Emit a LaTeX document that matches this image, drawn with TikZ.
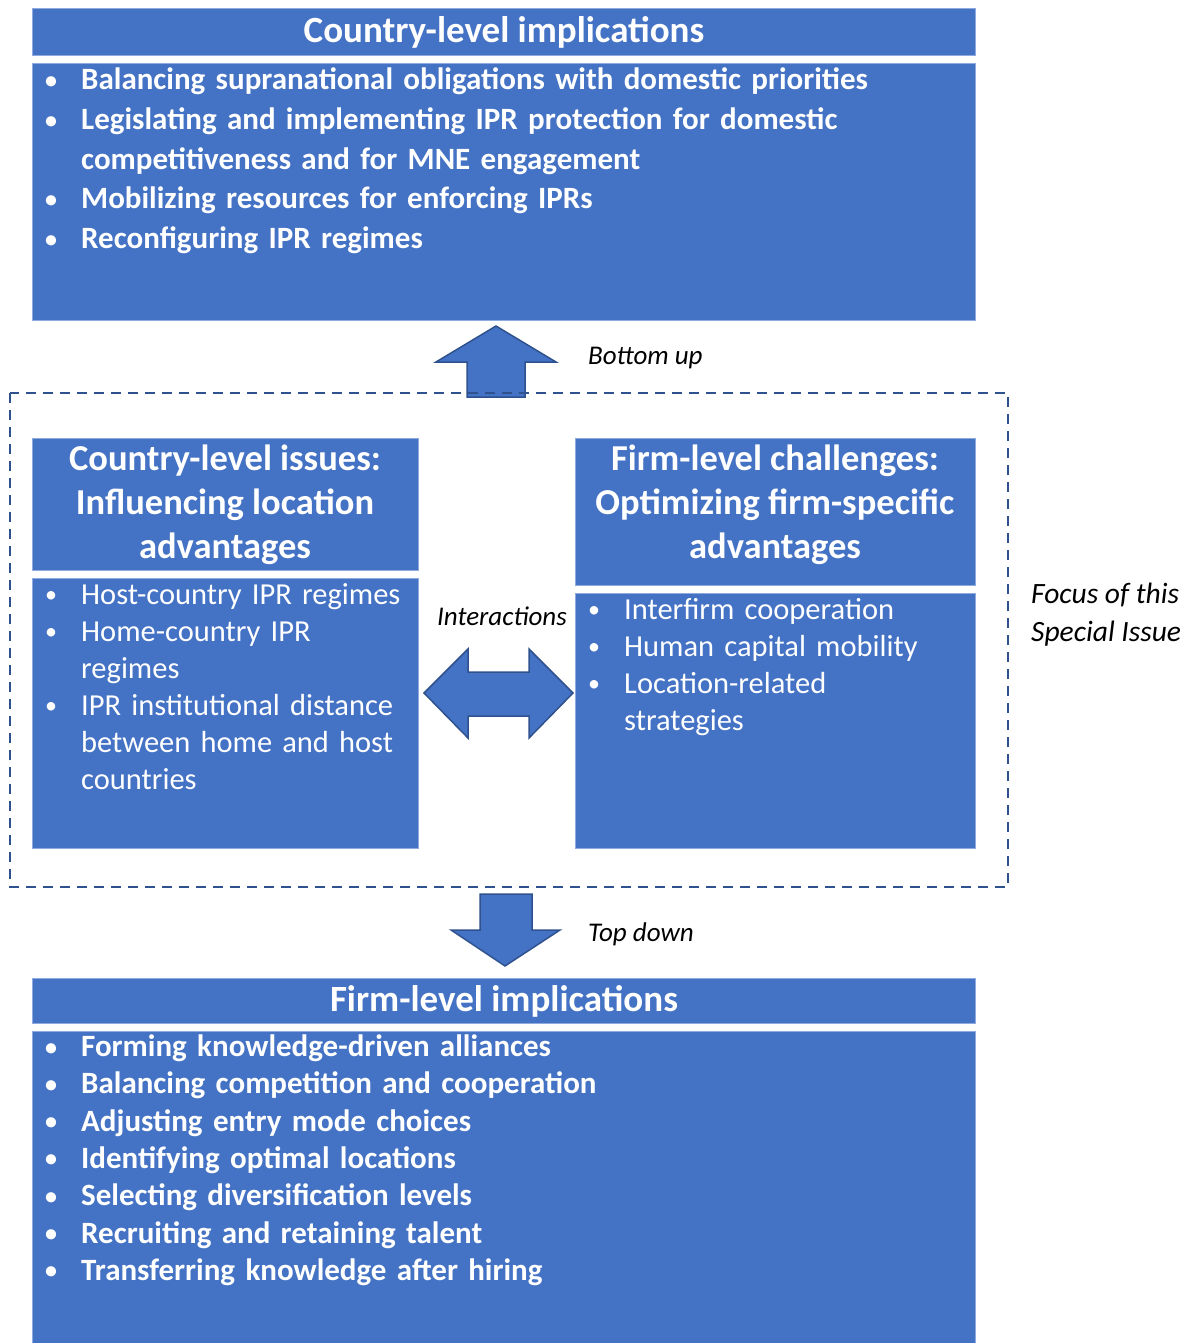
\documentclass[tikz,border=0pt]{standalone}
\usepackage{fontspec}
\setmainfont{Carlito}
\definecolor{boxblue}{HTML}{4472C4}
\definecolor{boxedge}{HTML}{8FAADC}
\definecolor{darkedge}{HTML}{2F528F}
\newcommand{\smallbullet}{\raisebox{1.5pt}{\fontsize{24}{24}\selectfont\textbullet}}
\newcommand{\bitem}[1]{\par\hangindent=36pt\hangafter=1\noindent\strut\makebox[36pt][l]{\smallbullet}#1}
\tikzset{
  box/.style={fill=boxblue, draw=boxedge, line width=1pt, inner sep=0pt, anchor=north west},
  bigarrow/.style={fill=boxblue, draw=darkedge, line width=1.5pt, line join=miter},
  wtext/.style={text=white, inner sep=0pt},
  boldlist/.style={wtext, anchor=north west, align=left, font=\fontsize{31}{39.7}\selectfont\bfseries},
  reglist/.style={wtext, anchor=north west, align=left, font=\fontsize{30.5}{37}\selectfont},
  midtitle/.style={wtext, anchor=north, align=center, font=\fontsize{36.5}{44}\selectfont\bfseries},
  maintitle/.style={wtext, font=\fontsize{37}{42}\selectfont\bfseries},
  lbl/.style={inner sep=0pt, font=\fontsize{27}{38}\selectfont\itshape}
}
\begin{document}
\begin{tikzpicture}[x=1pt,y=-1pt]
\useasboundingbox (0,0) rectangle (1189,1343);
% top block
\node[box, minimum width=943pt, minimum height=47pt] (ctitle) at (32,8) {};
\node[maintitle] (ctitletxt) at (ctitle.center) {Country-level implications};
\node[box, minimum width=943pt, minimum height=257pt] (cbody) at (32,63) {};
\node[boldlist, text width=920pt] (clist) at (45,50) {%
\bitem{Balancing supranational obligations with domestic priorities}
\bitem{Legislating and implementing IPR protection for domestic\newline competitiveness and for MNE engagement}
\bitem{Mobilizing resources for enforcing IPRs}
\bitem{Reconfiguring IPR regimes}\par};
% bottom up arrow
\draw[bigarrow] (496,326) -- (556,362) -- (525,362) -- (525,397) -- (467,397) -- (467,362) -- (436,362) -- cycle;
\node[lbl, anchor=west] (bu) at (588,358) {Bottom up};
% dashed focus box
\draw[darkedge, line width=2pt, dash pattern=on 10pt off 7pt] (10,393) rectangle (1008,887);
\node[lbl, align=left, anchor=west, font=\fontsize{29.5}{38}\selectfont\itshape] (focus) at (1031,615) {Focus of this\\Special Issue};
% middle left
\node[box, minimum width=386pt, minimum height=132pt] (ltitle) at (32,438) {};
\node[midtitle] (ltitletxt) at (225,439) {\strut Country-level issues:\\Influencing location\\advantages};
\node[box, minimum width=386pt, minimum height=270pt] (lbody) at (32,578) {};
\node[reglist, text width=375pt] (llist) at (45,567) {%
\bitem{Host-country IPR regimes}
\bitem{Home-country IPR\newline regimes}
\bitem{IPR institutional distance\newline between home and host\newline countries}\par};
% middle right
\node[box, minimum width=400pt, minimum height=147pt] (rtitle) at (575,438) {};
\node[midtitle] (rtitletxt) at (775,439) {\strut Firm-level challenges:\\Optimizing firm-specific\\advantages};
\node[box, minimum width=400pt, minimum height=255pt] (rbody) at (575,593) {};
\node[reglist, text width=385pt] (rlist) at (588,582) {%
\bitem{Interfirm cooperation}
\bitem{Human capital mobility}
\bitem{Location-related\newline strategies}\par};
% interactions arrow
\draw[bigarrow] (424,693) -- (468,649) -- (468,672) -- (529,672) -- (529,649) -- (573,693) -- (529,738) -- (529,716) -- (468,716) -- (468,738) -- cycle;
\node[lbl] (inter) at (502,616) {Interactions};
% top down arrow
\draw[bigarrow] (480,894) -- (532,894) -- (532,930) -- (560,930) -- (505,966) -- (451,930) -- (480,930) -- cycle;
\node[lbl, anchor=west] (td) at (588,934) {Top down};
% bottom block
\node[box, minimum width=943pt, minimum height=45pt] (ftitle) at (32,978) {};
\node[maintitle] (ftitletxt) at (ftitle.center) {Firm-level implications};
\node[box, minimum width=943pt, minimum height=320pt] (fbody) at (32,1031) {};
\node[boldlist, text width=920pt, font=\fontsize{31}{37.3}\selectfont\bfseries] (flist) at (45,1019) {%
\bitem{Forming knowledge-driven alliances}
\bitem{Balancing competition and cooperation}
\bitem{Adjusting entry mode choices}
\bitem{Identifying optimal locations}
\bitem{Selecting diversification levels}
\bitem{Recruiting and retaining talent}
\bitem{Transferring knowledge after hiring}\par};
\end{tikzpicture}
\end{document}
